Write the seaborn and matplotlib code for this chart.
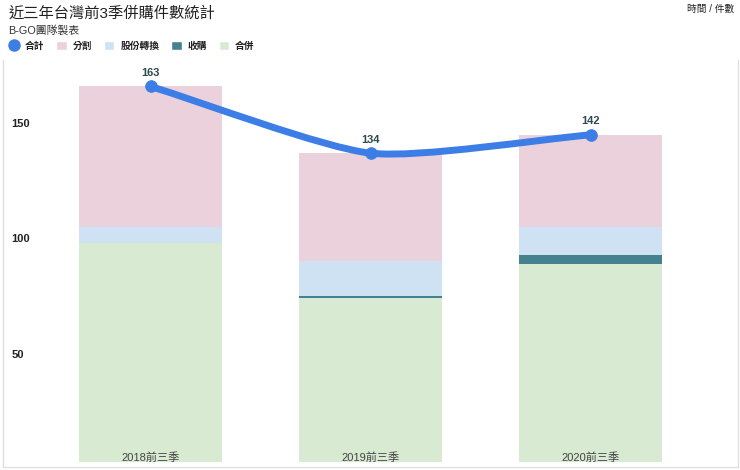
import numpy as np
import pandas as pd
import seaborn as sns
import matplotlib.pyplot as plt
import matplotlib.transforms as mtransforms
from matplotlib.path import Path
from matplotlib.patches import PathPatch, Patch
from matplotlib.lines import Line2D

# data
periods = ['2018前三季', '2019前三季', '2020前三季']
merge = [95, 71, 86]        # 合併
acquire = [0, 1, 4]         # 收購
share_swap = [7, 15, 12]    # 股份轉換
split = [61, 47, 40]        # 分割
totals = [163, 134, 142]    # 合計

c_merge = '#d9ead3'
c_acquire = '#45818e'
c_swap = '#cfe2f3'
c_split = '#ead1dc'
c_line = '#3d7ee6'
c_label = '#2e4a4f'

sns.set_theme(style='white')
plt.rcParams['font.family'] = ['Liberation Sans', 'Noto Sans CJK TC', 'DejaVu Sans']

df = pd.DataFrame({'period': periods, 'merge': merge, 'acquire': acquire,
                   'swap': share_swap, 'split': split, 'total': totals})
df['lvl1'] = df['merge']
df['lvl2'] = df['lvl1'] + df['acquire']
df['lvl3'] = df['lvl2'] + df['swap']
df['lvl4'] = df['lvl3'] + df['split']

fig = plt.figure(figsize=(7.4, 4.7), dpi=100)
ax = fig.add_axes([0.004, 0.0064, 0.993, 0.866])

# stacked bars drawn back to front as cumulative heights
for col, color in [('lvl4', c_split), ('lvl3', c_swap), ('lvl2', c_acquire), ('lvl1', c_merge)]:
    sns.barplot(data=df, x='period', y=col, color=color, width=0.65,
                saturation=1, ax=ax, linewidth=0)

# smooth total line (cubic bezier through the points)
smooth = 0.65
xs = np.arange(len(totals), dtype=float)
ys = np.array(totals, dtype=float)
pts = np.column_stack([xs, ys])
tangents = np.zeros_like(pts)
tangents[0] = pts[1] - pts[0]
tangents[-1] = pts[-1] - pts[-2]
for i in range(1, len(pts) - 1):
    tangents[i] = (pts[i + 1] - pts[i - 1]) / 2
tangents *= smooth
verts = [tuple(pts[0])]
codes = [Path.MOVETO]
for i in range(len(pts) - 1):
    verts += [tuple(pts[i] + tangents[i] / 3), tuple(pts[i + 1] - tangents[i + 1] / 3), tuple(pts[i + 1])]
    codes += [Path.CURVE4] * 3
ax.add_patch(PathPatch(Path(verts, codes), facecolor='none', edgecolor=c_line,
                       lw=5, capstyle='round', zorder=5))
sns.scatterplot(x=xs, y=ys, color=c_line, s=70, edgecolor=c_line, ax=ax, zorder=6)
for x, y in zip(xs, ys):
    ax.annotate(str(int(y)), (x, y), xytext=(0, 6), textcoords='offset points',
                ha='center', va='bottom', fontsize=8, fontweight='bold', color=c_label)

ax.set_xlim(-0.671, 2.668)
ax.set_ylim(-2.3, 174.5)
ax.set_xlabel('')
ax.set_ylabel('')

# y tick labels inside the plot
ax.set_yticks([50, 100, 150])
ax.tick_params(axis='y', length=0, pad=-6, labelsize=8)
offset = mtransforms.ScaledTranslation(0, -5 / 72, fig.dpi_scale_trans)
for lab in ax.get_yticklabels():
    lab.set_horizontalalignment('left')
    lab.set_fontweight('bold')
    lab.set_color('#222222')
    lab.set_transform(lab.get_transform() + offset)

# x labels inside the bars
ax.tick_params(axis='x', length=0, labelbottom=False)
for i, p in enumerate(periods):
    ax.text(i, 2, p, ha='center', va='center', fontsize=8, color='#444444')

for side in ['left', 'right', 'bottom']:
    ax.spines[side].set_color('#e0e0e0')
    ax.spines[side].set_linewidth(1)
ax.spines['top'].set_visible(False)

fig.text(0.011, 0.972, '近三年台灣前3季併購件數統計', fontsize=11, color='#222222', va='center')
fig.text(0.011, 0.934, 'B-GO團隊製表', fontsize=7.8, color='#333333', va='center')
fig.text(0.992, 0.981, '時間 / 件數', fontsize=7, color='#222222', ha='right', va='center')

handles = [
    Line2D([], [], marker='o', linestyle='none', color=c_line, markersize=8),
    Patch(facecolor=c_split),
    Patch(facecolor=c_swap),
    Patch(facecolor=c_acquire),
    Patch(facecolor=c_merge),
]
names = ['合計', '分割', '股份轉換', '收購', '合併']
leg = fig.legend(handles, names, loc='center left', bbox_to_anchor=(0.006, 0.903), ncol=5,
                 frameon=False, fontsize=7, handlelength=1.1, handleheight=1.1,
                 handletextpad=0.6, columnspacing=1.2, borderaxespad=0)
for t in leg.get_texts():
    t.set_fontweight('bold')
    t.set_color('#222222')

fig.savefig('out.png', dpi=100)
